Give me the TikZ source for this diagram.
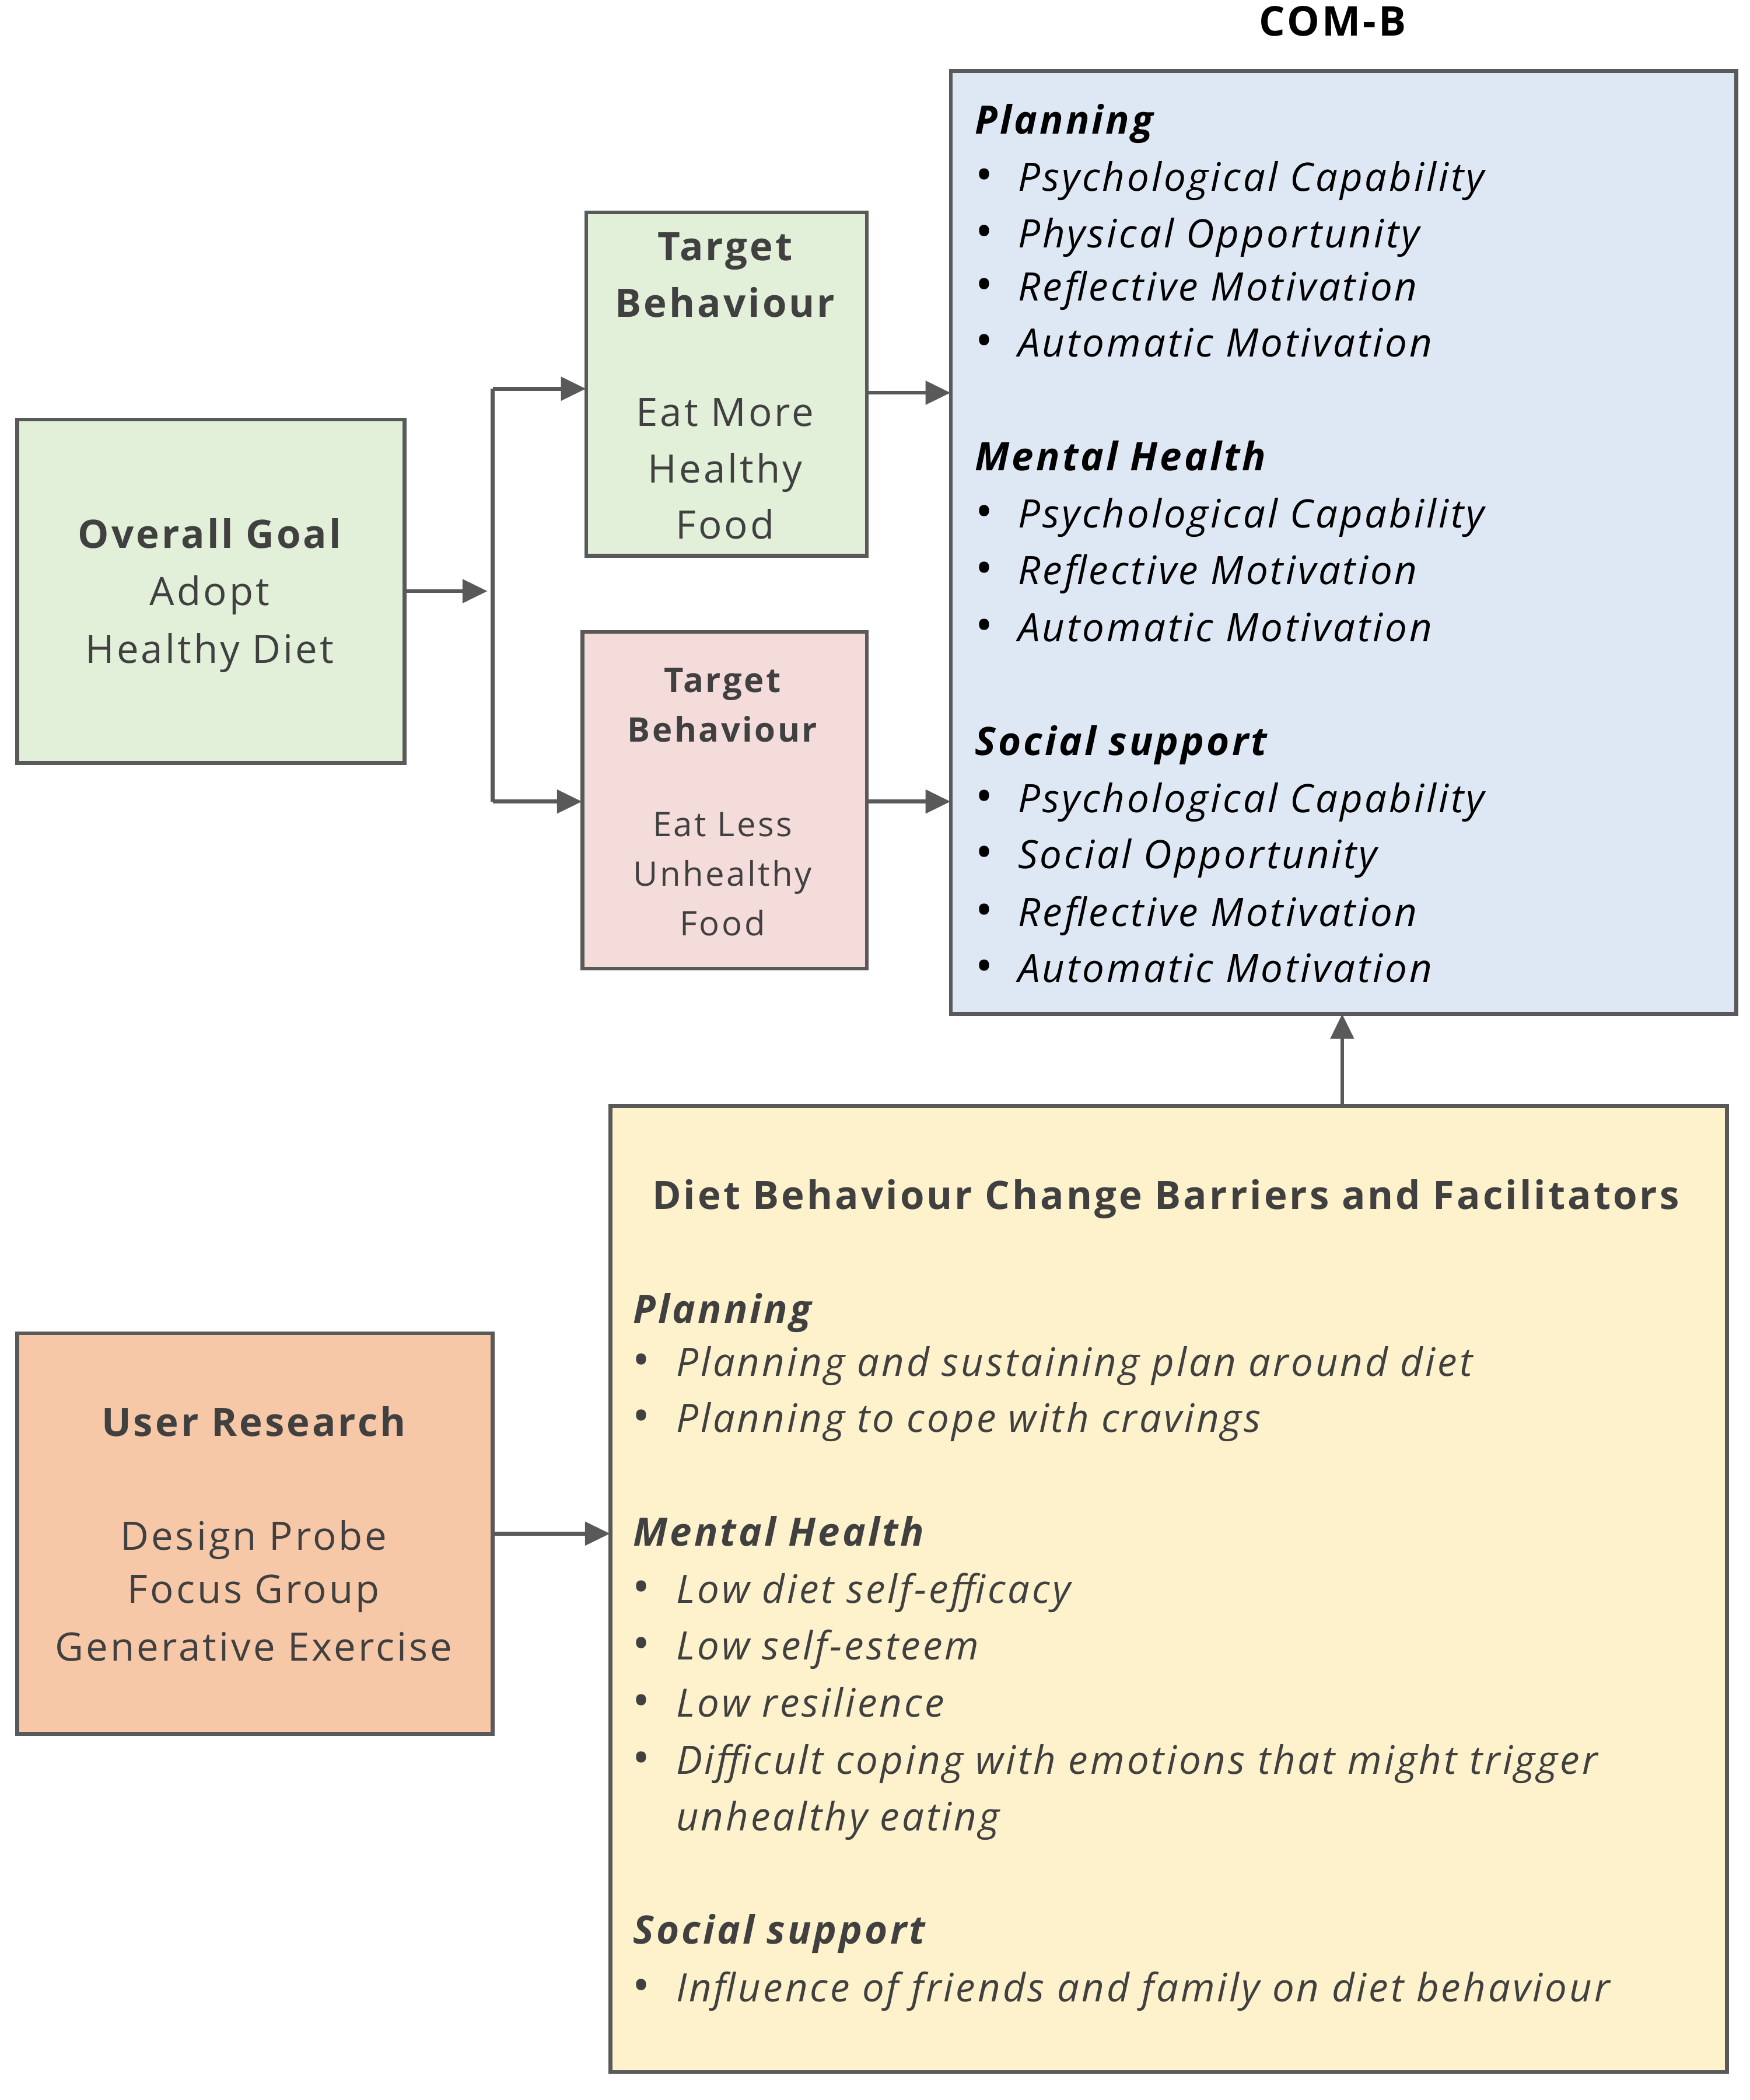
\documentclass[tikz,border=0pt]{standalone}
\usepackage{fontspec}
\setmainfont[LetterSpace=6]{Open Sans}
\usetikzlibrary{arrows.meta}
\definecolor{bordg}{HTML}{595959}
\definecolor{txt}{HTML}{404040}
\definecolor{gfill}{HTML}{E2EFD9}
\definecolor{pfill}{HTML}{F4DCDB}
\definecolor{bfill}{HTML}{DEE8F4}
\definecolor{yfill}{HTML}{FEF2CC}
\definecolor{ofill}{HTML}{F7C8A8}
\begin{document}
\begin{tikzpicture}[x=0.75pt,y=-0.75pt,
 box/.style={draw=bordg,line width=2.2pt},
 arr/.style={draw=bordg,line width=2.2pt,-{Triangle[length=14pt,width=13pt]}},
 ln/.style={draw=bordg,line width=2.2pt},
 t/.style={inner sep=0pt,anchor=mid,yshift=-5pt,text=txt,font=\fontsize{22}{26}\selectfont},
 tb/.style={t,font=\fontsize{22}{26}\selectfont\bfseries},
 ts/.style={t,font=\fontsize{19}{23}\selectfont},
 tsb/.style={t,font=\fontsize{19}{23}\selectfont\bfseries},
 h/.style={inner sep=0pt,anchor=mid west,yshift=-5pt,font=\fontsize{22}{26}\selectfont\bfseries\itshape},
 it/.style={inner sep=0pt,anchor=mid west,yshift=-5pt,font=\fontsize{22}{26}\selectfont\itshape},
 bl/.style={inner sep=0pt,anchor=mid,yshift=-5pt,font=\fontsize{26}{26}\selectfont}]
\useasboundingbox (0,0) rectangle (1310,1572);
% boxes
\draw[box,fill=gfill] (13,314) rectangle (303,571);
\node (goal) at (158,442.5) [minimum width=290*0.75pt,minimum height=257*0.75pt,inner sep=0pt] {};
\draw[box,fill=gfill] (439,159) rectangle (649,416);
\node (tb1) at (544,287.5) [minimum width=210*0.75pt,minimum height=257*0.75pt,inner sep=0pt] {};
\draw[box,fill=pfill] (436,473) rectangle (649,725);
\node (tb2) at (542.5,599) [minimum width=213*0.75pt,minimum height=252*0.75pt,inner sep=0pt] {};
\draw[box,fill=bfill] (712,53) rectangle (1300,759);
\node (comb) at (1006,406) [minimum width=588*0.75pt,minimum height=706*0.75pt,inner sep=0pt] {};
\draw[box,fill=yfill] (457,828) rectangle (1293,1551);
\node (diet) at (875,1189.5) [minimum width=836*0.75pt,minimum height=723*0.75pt,inner sep=0pt] {};
\draw[box,fill=ofill] (13,998) rectangle (369,1298);
\node (user) at (191,1148) [minimum width=356*0.75pt,minimum height=300*0.75pt,inner sep=0pt] {};
% connectors
\coordinate (j1) at (369,291);
\coordinate (j2) at (369,600);
\draw[arr] (goal.east) -- (365,442.5);
\draw[ln] (j1) -- (j2);
\draw[arr] (j1) -- (tb1.west |- j1);
\draw[arr] (j2) -- (tb2.west |- j2);
\draw[arr] (649,294) -- (comb.west |- 0,294);
\draw[arr] (649,600) -- (comb.west |- 0,600);
\draw[arr] (diet.north -| 1005,0) -- (1005,759);
\draw[arr] (user.east) -- (diet.west |- user.east);
% texts
\node[inner sep=0pt,anchor=mid,yshift=-4pt,font=\fontsize{23}{26}\selectfont\bfseries] (cbt) at (998,18) {COM-B};
\node[tb] (g1) at (157,400) {Overall Goal};
\node[t] (g2) at (157,443) {Adopt};
\node[t] (g3) at (157,486) {Healthy Diet};
\node[tb] (a1) at (543,185) {Target};
\node[tb] (a2) at (543,227) {Behaviour};
\node[t] (a3) at (543,309) {Eat More};
\node[t] (a4) at (543,351) {Healthy};
\node[t] (a5) at (543,393) {Food};
\node[tsb] (b1) at (541,508) {Target};
\node[tsb] (b2) at (541,545) {Behaviour};
\node[ts] (b3) at (541,616) {Eat Less};
\node[ts] (b4) at (541,653) {Unhealthy};
\node[ts] (b5) at (541,690) {Food};
\node[tb] (u1) at (190,1065) {User Research};
\node[t] (u2) at (190,1150) {Design Probe};
\node[t] (u3) at (190,1190) {Focus Group};
\node[t] (u4) at (190,1233) {Generative Exercise};
% COM-B list
\node[h] (c0) at (730,90) {Planning};
\foreach \y/\s [count=\i] in {133/Psychological Capability,175/Physical Opportunity,215/Reflective Motivation,257/Automatic Motivation,
 385/Psychological Capability,427/Reflective Motivation,470/Automatic Motivation,
 598/Psychological Capability,640/Social Opportunity,683/Reflective Motivation,725/Automatic Motivation}{
 \node[bl] (cb\i) at (737,\y) {•};
 \node[it] (ci\i) at (762,\y) {\s};}
\node[h] (c5) at (730,342) {Mental Health};
\node[h] (c9) at (730,555) {Social support};
% Diet list
\node[tb] (dt) at (873,895) {Diet Behaviour Change Barriers and Facilitators};
\begin{scope}[every node/.append style={text=txt}]
\node[h] (d0) at (474,980) {Planning};
\node[h] (d3) at (474,1147) {Mental Health};
\node[h] (d8) at (474,1445) {Social support};
\foreach \y/\s [count=\i] in {1020/Planning and sustaining plan around diet,1062/Planning to cope with cravings,
 1190/Low diet self-efficacy,1232/Low self-esteem,1275/Low resilience,1318/Difficult coping with emotions that might trigger,
 1488/Influence of friends and family on diet behaviour}{
 \node[bl] (db\i) at (480,\y) {•};
 \node[it] (di\i) at (506,\y) {\s};}
\node[it] (dcont) at (506,1360) {unhealthy eating};
\end{scope}
\end{tikzpicture}
\end{document}
